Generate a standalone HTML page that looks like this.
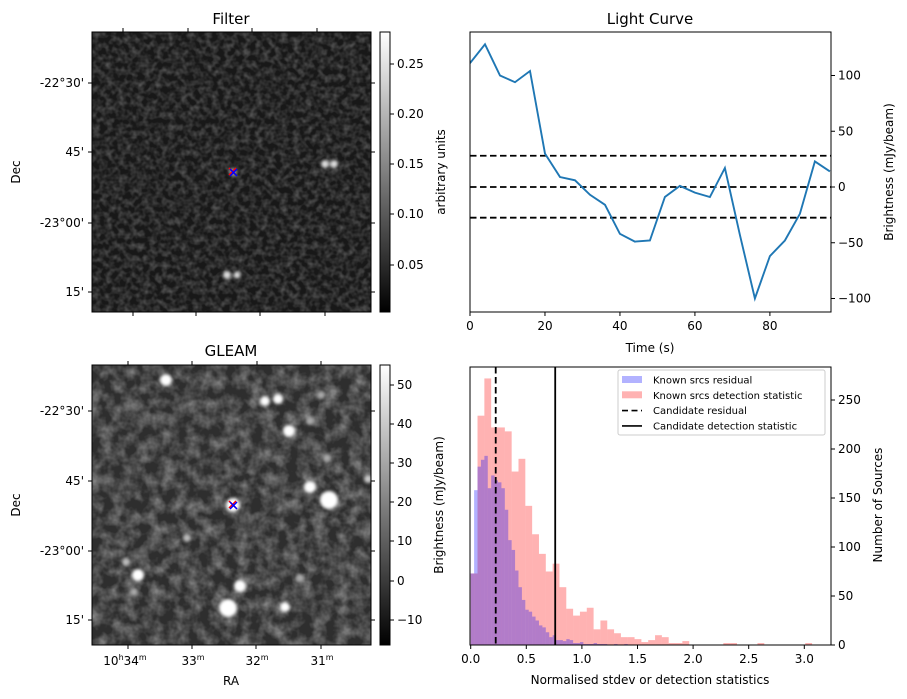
<!DOCTYPE html>
<html><head><meta charset="utf-8">
<style>
html,body{margin:0;padding:0;background:#fff;}
svg{display:block;font-family:"DejaVu Sans","Liberation Sans",sans-serif;}
text{fill:#000;}
</style></head>
<body>
<svg id="fig" width="907" height="699" viewBox="0 0 907 699" xmlns="http://www.w3.org/2000/svg">
<defs>
  <filter id="noiseF" x="0" y="0" width="100%" height="100%">
    <feTurbulence type="fractalNoise" baseFrequency="0.16" numOctaves="2" seed="7"/>
    <feColorMatrix type="matrix" values="0 0 0 0 0  0 0 0 0 0  0 0 0 0 0  1 0 0 0 0"/>
    <feComponentTransfer><feFuncA type="linear" slope="1.4" intercept="-0.5"/></feComponentTransfer>
    <feColorMatrix type="matrix" values="0 0 0 0 1  0 0 0 0 1  0 0 0 0 1  0 0 0 0.35 0"/>
  </filter>
  <filter id="noiseG" x="0" y="0" width="100%" height="100%">
    <feTurbulence type="fractalNoise" baseFrequency="0.08" numOctaves="3" seed="3"/>
    <feColorMatrix type="matrix" values="0 0 0 0 0  0 0 0 0 0  0 0 0 0 0  1 0 0 0 0"/>
    <feComponentTransfer><feFuncA type="linear" slope="1.8" intercept="-0.6"/></feComponentTransfer>
    <feColorMatrix type="matrix" values="0 0 0 0 1  0 0 0 0 1  0 0 0 0 1  0 0 0 0.4 0"/>
  </filter>
  <filter id="blur2"><feGaussianBlur stdDeviation="1.5"/></filter>
  <linearGradient id="cbar" x1="0" y1="1" x2="0" y2="0">
    <stop offset="0" stop-color="#000"/><stop offset="1" stop-color="#fff"/>
  </linearGradient>
  <clipPath id="clipF"><rect x="92" y="32" width="279" height="280"/></clipPath>
  <clipPath id="clipG"><rect x="92" y="365" width="279" height="280"/></clipPath>
</defs>

<!-- Filter image -->
<g clip-path="url(#clipF)">
  <rect x="92" y="32" width="279" height="280" fill="#181818"/>
  <rect x="92" y="32" width="279" height="280" fill="#000" filter="url(#noiseF)"/>
  <g filter="url(#blur2)" fill="#ddd">
    <circle cx="233" cy="172" r="4" fill="#999"/>
    <circle cx="325" cy="164" r="4"/><circle cx="334" cy="164" r="4"/>
    <circle cx="227" cy="275" r="4"/><circle cx="237" cy="275" r="3.5"/>
  </g>
</g>
<rect x="92" y="32" width="279" height="280" fill="none" stroke="#000"/>
<g stroke-width="1.5">
  <path d="M229,168 L236,175 M236,168 L229,175" stroke="red"/>
  <path d="M230,169 L237,176 M237,169 L230,176" stroke="blue"/>
</g>
<text x="231" y="24" font-size="15" text-anchor="middle">Filter</text>
<g stroke="#000">
  <path d="M123,32v-4M188,32v-4M252,32v-4M317,32v-4M133,312v4M196,312v4M260,312v4M325,312v4M92,83h-4M92,152h-4M92,223h-4M92,292h-4M371,83h4M371,152h4M371,223h4M371,292h4"/>
</g>
<g font-size="12" text-anchor="end">
  <text x="84" y="87">-22°30'</text><text x="84" y="156">45'</text><text x="84" y="227">-23°00'</text><text x="84" y="296">15'</text>
</g>
<text transform="translate(20,172) rotate(-90)" font-size="12" text-anchor="middle">Dec</text>
<rect x="380" y="32" width="10" height="280" fill="url(#cbar)" stroke="#000"/>
<g stroke="#000"><path d="M390,265h4M390,214h4M390,164h4M390,114h4M390,64h4"/></g>
<g font-size="12">
  <text x="397" y="269">0.05</text><text x="397" y="218">0.10</text><text x="397" y="168">0.15</text><text x="397" y="118">0.20</text><text x="397" y="68">0.25</text>
</g>
<text transform="translate(445,172) rotate(-90)" font-size="12" text-anchor="middle">arbitrary units</text>

<!-- GLEAM image -->
<g clip-path="url(#clipG)">
  <rect x="92" y="365" width="279" height="280" fill="#2e2e2e"/>
  <rect x="92" y="365" width="279" height="280" fill="#000" filter="url(#noiseG)"/>
  <g filter="url(#blur2)" fill="#fff">
    <circle cx="166" cy="380" r="6"/>
    <circle cx="265" cy="401" r="5"/><circle cx="278" cy="399" r="5"/>
    <circle cx="289" cy="431" r="6"/>
    <circle cx="310" cy="487" r="6"/>
    <circle cx="329" cy="500" r="9"/>
    <circle cx="233" cy="505" r="7"/>
    <circle cx="138" cy="575" r="6"/>
    <circle cx="240" cy="586" r="6"/>
    <circle cx="228" cy="608" r="9"/>
    <circle cx="285" cy="607" r="5"/>
    <circle cx="126" cy="562" r="4" fill="#bbb"/>
    <circle cx="187" cy="538" r="4" fill="#bbb"/>
    <circle cx="134" cy="592" r="4" fill="#aaa"/>
    <circle cx="368" cy="479" r="4" fill="#ccc"/>
    <circle cx="321" cy="395" r="4" fill="#aaa"/>
    <circle cx="310" cy="421" r="4" fill="#aaa"/>
    <circle cx="327" cy="458" r="4" fill="#aaa"/>
    <circle cx="300" cy="578" r="4" fill="#aaa"/>
  </g>
</g>
<rect x="92" y="365" width="279" height="280" fill="none" stroke="#000"/>
<g stroke-width="1.5">
  <path d="M229,501 L236,508 M236,501 L229,508" stroke="red"/>
  <path d="M230,502 L237,509 M237,502 L230,509" stroke="blue"/>
</g>
<text x="231" y="356" font-size="15" text-anchor="middle">GLEAM</text>
<g stroke="#000">
  <path d="M128,365v-4M192,365v-4M257,365v-4M321,365v-4M128,645v4M192,645v4M256,645v4M321,645v4M92,411h-4M92,481h-4M92,551h-4M92,620h-4M371,411h4M371,481h4M371,551h4M371,620h4"/>
</g>
<g font-size="12" text-anchor="end">
  <text x="84" y="415">-22°30'</text><text x="84" y="485">45'</text><text x="84" y="555">-23°00'</text><text x="84" y="624">15'</text>
</g>
<text transform="translate(20,505) rotate(-90)" font-size="12" text-anchor="middle">Dec</text>
<g font-size="12" text-anchor="middle">
  <text x="125" y="665">10<tspan font-size="8" dy="-5">h</tspan><tspan dy="5">34</tspan><tspan font-size="8" dy="-5">m</tspan></text>
  <text x="193" y="665">33<tspan font-size="8" dy="-5">m</tspan></text>
  <text x="257" y="665">32<tspan font-size="8" dy="-5">m</tspan></text>
  <text x="322" y="665">31<tspan font-size="8" dy="-5">m</tspan></text>
</g>
<text x="231" y="685" font-size="12" text-anchor="middle">RA</text>
<rect x="380" y="365" width="10" height="280" fill="url(#cbar)" stroke="#000"/>
<g stroke="#000"><path d="M390,385h4M390,424h4M390,463h4M390,502h4M390,541h4M390,581h4M390,620h4"/></g>
<g font-size="12">
  <text x="397" y="389">50</text><text x="397" y="428">40</text><text x="397" y="467">30</text><text x="397" y="506">20</text><text x="397" y="545">10</text><text x="397" y="585">0</text><text x="397" y="624">−10</text>
</g>
<text transform="translate(443,505) rotate(-90)" font-size="12" text-anchor="middle">Brightness (mJy/beam)</text>

<g id="lc"></g>
<g id="hist"></g>
</svg>

<script>
// ---- Light curve data ----
const lcTimes = [0,4,8,12,16,20,24,28,32,36,40,44,48,52,56,60,64,68,72,76,80,84,88,92,96];
const lcFlux = [111,128,100,94,104,30,9,6,-7,-16,-42,-49,-48,-9,1,-5,-9,17,-43,-100,-62,-48,-24,23,14];
const lcLevels = [28,0,-27.5];
const lcXTicks = [0,20,40,60,80];
const lcYTicks = [-100,-50,0,50,100];

// ---- Histogram data ----
const detBinWidth = 0.0614;
const detCounts = [73,234,272,222,222,218,177,190,142,113,93,75,83,59,37,30,34,38,16,25,16,12,8,8,6,3,5,10,8,2,2,4,0,0,0,0,0,2,2,0,0,0,2,0,0,0,0,0,0,2];
const resBinWidth = 0.0307;
const resCounts = [73,158,182,189,193,160,173,168,166,160,138,107,97,76,59,46,36,34,29,25,20,18,13,8,10,5,5,4,6,5,2,2,3,1,1,1,2,1,1,1,0,0,1,0,0,1];
const candResidual = 0.225;
const candDetection = 0.76;
const histXTicks = [0,0.5,1.0,1.5,2.0,2.5,3.0];
const histYTicks = [0,50,100,150,200,250];

const NS = 'http://www.w3.org/2000/svg';
function mk(parent, tag, attrs, txt){
  const e = document.createElementNS(NS, tag);
  for (const k in attrs) e.setAttribute(k, attrs[k]);
  if (txt !== undefined) e.textContent = txt;
  parent.appendChild(e);
  return e;
}

(function(){
  const g = document.getElementById('lc');
  const L=470, R=831, T=32, B=312;
  const xS = t => L + (t-0)*(R-L)/96.3;
  const yS = v => 187 - v*1.115;
  let e;
  e = mk(g,'text',{x:650,y:24,'font-size':15,'text-anchor':'middle'},'Light Curve');
  
  
  lcLevels.forEach(v=>{
    e = mk(g,'line',{x1:L,x2:R,y1:yS(v),y2:yS(v),stroke:'#000','stroke-width':1.8,'stroke-dasharray':'6.5,3.5'});
    
    
  });
  const pts = lcTimes.map((t,i)=>xS(t).toFixed(1)+','+yS(lcFlux[i]).toFixed(1)).join(' ');
  const clip = mk(g,'clipPath',{id:'lcclip'}); mk(clip,'rect',{x:L,y:T,width:R-L,height:B-T});
  e = mk(g,'polyline',{points:pts,fill:'none',stroke:'#1f77b4','stroke-width':1.9,'clip-path':'url(#lcclip)'});
  
  
  e = mk(g,'rect',{x:L,y:T,width:R-L,height:B-T,fill:'none',stroke:'#000'});
  
  
  lcXTicks.forEach(t=>{
    mk(g,'line',{x1:xS(t),x2:xS(t),y1:B,y2:B+4,stroke:'#000'});
    e = mk(g,'text',{x:xS(t),y:B+18,'font-size':12,'text-anchor':'middle'},String(t));
    
    
  });
  lcYTicks.forEach(v=>{
    mk(g,'line',{x1:R,x2:R+4,y1:yS(v),y2:yS(v),stroke:'#000'});
    e = mk(g,'text',{x:R+7,y:yS(v)+4,'font-size':12},v<0?'−'+(-v):String(v));
    
    
  });
  e = mk(g,'text',{x:650,y:352,'font-size':12,'text-anchor':'middle'},'Time (s)');
  
  
  e = mk(g,'text',{transform:'translate(893,172) rotate(-90)','font-size':12,'text-anchor':'middle'},'Brightness (mJy/beam)');
  
  
})();

(function(){
  const g = document.getElementById('hist');
  const L=470, R=831, T=367, B=645;
  const xS = v => 470.7 + v*111.2;
  const yS = c => B - c*0.98;
  let e;
  detCounts.forEach((c,i)=>{
    if(!c) return;
    e = mk(g,'rect',{x:xS(i*detBinWidth),y:yS(c),width:detBinWidth*111.2,height:B-yS(c),fill:'rgba(255,0,0,0.3)'});
    
    
  });
  resCounts.forEach((c,i)=>{
    if(!c) return;
    e = mk(g,'rect',{x:xS(i*resBinWidth),y:yS(c),width:resBinWidth*111.2,height:B-yS(c),fill:'rgba(0,0,255,0.3)'});
    
    
  });
  e = mk(g,'line',{x1:xS(candResidual),x2:xS(candResidual),y1:T,y2:B,stroke:'#000','stroke-width':1.8,'stroke-dasharray':'6.5,3.5'});
  
  
  e = mk(g,'line',{x1:xS(candDetection),x2:xS(candDetection),y1:T,y2:B,stroke:'#000','stroke-width':1.8});
  
  
  e = mk(g,'rect',{x:L,y:T,width:R-L,height:B-T,fill:'none',stroke:'#000'});
  
  
  histXTicks.forEach(v=>{
    mk(g,'line',{x1:xS(v),x2:xS(v),y1:B,y2:B+4,stroke:'#000'});
    e = mk(g,'text',{x:xS(v),y:B+18,'font-size':12,'text-anchor':'middle'},v.toFixed(1));
    
    
  });
  histYTicks.forEach(v=>{
    mk(g,'line',{x1:R,x2:R+4,y1:yS(v),y2:yS(v),stroke:'#000'});
    e = mk(g,'text',{x:R+7,y:yS(v)+4,'font-size':12},String(v));
    
    
  });
  e = mk(g,'text',{x:650,y:684,'font-size':12,'text-anchor':'middle'},'Normalised stdev or detection statistics');
  
  
  e = mk(g,'text',{transform:'translate(882,505) rotate(-90)','font-size':12,'text-anchor':'middle'},'Number of Sources');
  
  
  const lg = mk(g,'g',{});
  
  
  mk(lg,'rect',{x:618,y:370,width:207,height:65,fill:'#fff','fill-opacity':0.8,stroke:'#ccc',rx:2});
  const items = [['Known srcs residual','blue'],['Known srcs detection statistic','red'],['Candidate residual','dash'],['Candidate detection statistic','solid']];
  items.forEach((it,i)=>{
    const y = 380 + i*15.3;
    if(it[1]==='blue') mk(lg,'rect',{x:622,y:y-4,width:20,height:7,fill:'rgba(0,0,255,0.3)'});
    else if(it[1]==='red') mk(lg,'rect',{x:622,y:y-4,width:20,height:7,fill:'rgba(255,0,0,0.3)'});
    else mk(lg,'line',{x1:622,x2:642,y1:y,y2:y,stroke:'#000','stroke-width':1.6,'stroke-dasharray':it[1]==='dash'?'6,3.5':'none'});
    e = mk(lg,'text',{x:653,y:y+3.5,'font-size':10},it[0]);
    
    
  });
})();
</script>
</body></html>
